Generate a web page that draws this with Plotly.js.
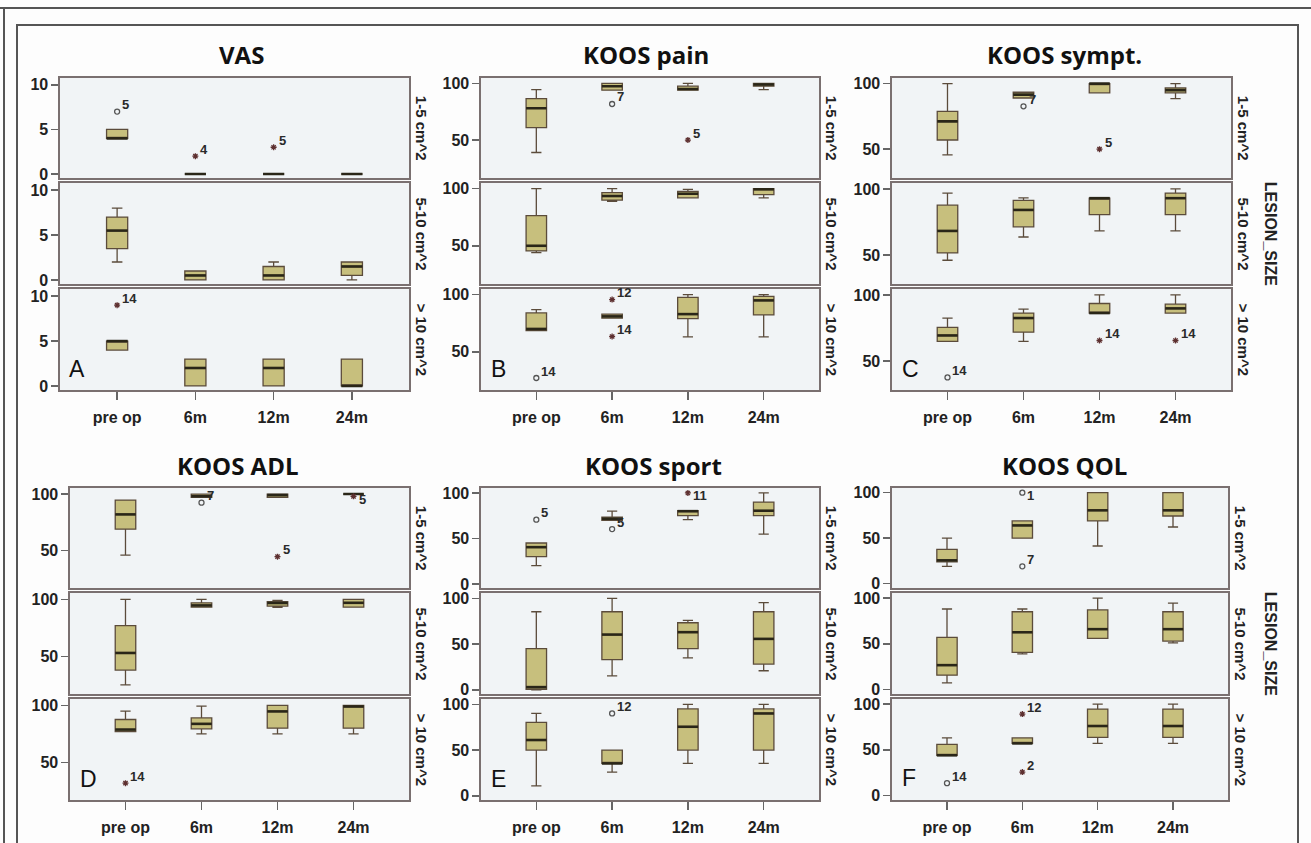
<!DOCTYPE html>
<html><head><meta charset="utf-8">
<script src="https://cdn.plot.ly/plotly-3.0.1.min.js"></script>
<style>html,body{margin:0;padding:0;background:#fff}#chart{width:1311px;height:843px}</style>
</head><body><div id="chart"></div>
<script>
// ---------------- DATA ----------------
const categories = ['pre op', '6m', '12m', '24m'];
const lesionSizes = ['1-5 cm^2', '5-10 cm^2', '> 10 cm^2'];
const panelTitles = ['VAS', 'KOOS pain', 'KOOS sympt.', 'KOOS ADL', 'KOOS sport', 'KOOS QOL'];
const panelLetters = ['A', 'B', 'C', 'D', 'E', 'F'];
const groupLabel = 'LESION_SIZE';

// rows = lesion size (1-5, 5-10, >10), columns = categories
const vasQ1  = [[4, 0, 0, 0], [3.5, 0, 0, 0.5], [4, 0, 0, 0]];
const vasMed = [[4, 0, 0, 0], [5.5, 0.5, 0.5, 1.5], [5, 2, 2, 0]];
const vasQ3  = [[5, 0, 0, 0], [7, 1, 1.5, 2], [5, 3, 3, 3]];
const vasLo  = [[4, 0, 0, 0], [2, 0, 0, 0], [4, 0, 0, 0]];
const vasHi  = [[5, 0, 0, 0], [8, 1, 2, 2], [5, 3, 3, 3]];
const vasTicks = [0, 5, 10];
const vasOutRow = [0, 0, 0, 2];
const vasOutCat = [0, 1, 2, 0];
const vasOutVal = [7, 2, 3, 9];
const vasOutId  = ['5', '4', '5', '14'];
const vasOutExtreme = [0, 1, 1, 1];

const painQ1  = [[61, 94, 94, 97.5], [45.5, 90, 92, 94.8], [68.6, 79.4, 79, 82.3]];
const painMed = [[78, 97.5, 95, 99], [50, 93.6, 95.6, 99.5], [70, 81, 83, 95]];
const painQ3  = [[86.5, 100, 97.5, 100], [76.5, 96.5, 97.7, 100], [84, 83, 97.7, 98.6]];
const painLo  = [[39, 94, 94, 94.5], [44, 89, 92, 92], [68.6, 79.4, 63, 63]];
const painHi  = [[94.5, 100, 100, 100], [100, 100, 99.4, 100], [87, 83, 100, 100]];
const painTicks = [50, 100];
const painOutRow = [0, 0, 2, 2, 2];
const painOutCat = [1, 2, 0, 1, 1];
const painOutVal = [81.8, 50, 27, 95.7, 63.4];
const painOutId  = ['7', '5', '14', '12', '14'];
const painOutExtreme = [0, 1, 0, 1, 1];

const symQ1  = [[57, 89, 93, 93], [51.5, 71.3, 80.5, 80.5], [64.8, 71.8, 86.3, 86.3]];
const symMed = [[71.2, 91.6, 100, 95], [68.2, 84.1, 93, 93], [69.3, 82.5, 86.3, 89.8]];
const symQ3  = [[78.8, 93.4, 100, 96.7], [87.7, 91.3, 93, 96.9], [75.5, 86.3, 93.5, 93]];
const symLo  = [[45.7, 89, 93, 88.5], [46, 63.6, 68.2, 68.2], [64.8, 64.8, 86.3, 86.3]];
const symHi  = [[100, 93.4, 100, 100], [96.9, 93.3, 93, 100], [82.5, 89.3, 100, 100]];
const symTicks = [50, 100];
const symOutRow = [0, 0, 2, 2, 2];
const symOutCat = [1, 2, 0, 2, 3];
const symOutVal = [82.7, 50, 37.5, 65.5, 65.5];
const symOutId  = ['7', '5', '14', '14', '14'];
const symOutExtreme = [0, 1, 0, 1, 1];

const adlQ1  = [[69, 97, 97, 100], [38, 93.2, 94, 93.2], [77, 79.4, 80, 80]];
const adlMed = [[82, 98, 99, 100], [53, 94.7, 96.8, 97], [78.8, 83.8, 94.7, 99]];
const adlQ3  = [[94.7, 100, 100, 100], [77, 97, 98, 100], [87.6, 89, 100, 100]];
const adlLo  = [[46, 97, 97, 100], [25, 93.2, 93, 93.2], [77, 75, 75, 75]];
const adlHi  = [[94.7, 100, 100, 100], [100, 100, 99, 100], [95, 99.4, 100, 100]];
const adlTicks = [50, 100];
const adlOutRow = [0, 0, 0, 2];
const adlOutCat = [1, 2, 3, 0];
const adlOutVal = [92.4, 44.7, 98, 31.8];
const adlOutId  = ['7', '5', '5', '14'];
const adlOutExtreme = [0, 1, 1, 1];

const sportQ1  = [[30, 70, 75, 75], [0.7, 33, 45, 28.2], [50, 35.4, 50, 50]];
const sportMed = [[40.4, 71.7, 80, 80.5], [3, 60.4, 63, 55.7], [61, 35.4, 75.5, 90]];
const sportQ3  = [[45, 73.5, 80.5, 90], [45, 85.3, 73.3, 85.3], [80.3, 50, 95, 95]];
const sportLo  = [[20, 70, 70.6, 54.8], [0, 15.4, 35, 20.9], [11, 26, 35.4, 35.4]];
const sportHi  = [[45, 80, 80.5, 100], [85.3, 100, 75.8, 95.2], [90, 50, 100, 100]];
const sportTicks = [0, 50, 100];
const sportOutRow = [0, 0, 0, 2];
const sportOutCat = [0, 1, 2, 1];
const sportOutVal = [70.6, 60.3, 100, 90];
const sportOutId  = ['5', '5', '11', '12'];
const sportOutExtreme = [0, 0, 1, 0];

const qolQ1  = [[24, 50, 69, 74.4], [15.8, 40.7, 56, 53], [44, 57, 63.6, 63.6]];
const qolMed = [[25.6, 64, 80.6, 80.6], [26.7, 62.6, 66, 66], [44, 57, 76, 76]];
const qolQ3  = [[37.7, 69, 100, 100], [57, 85, 87, 85], [56, 63, 94.5, 94.5]];
const qolLo  = [[19, 50, 41.4, 62.3], [7.3, 39, 56, 51], [44, 57, 57, 57]];
const qolHi  = [[50, 69, 100, 100], [88, 88, 100, 94.5], [63, 63, 100, 100]];
const qolTicks = [0, 50, 100];
const qolOutRow = [0, 0, 2, 2, 2];
const qolOutCat = [1, 1, 0, 1, 1];
const qolOutVal = [100, 19, 13.6, 89, 25.7];
const qolOutId  = ['1', '7', '14', '12', '2'];
const qolOutExtreme = [0, 0, 0, 1, 1];

// ---------------- BUILD ----------------
const panels = [
  {q1: vasQ1, med: vasMed, q3: vasQ3, lo: vasLo, hi: vasHi, ticks: vasTicks, oR: vasOutRow, oC: vasOutCat, oV: vasOutVal, oId: vasOutId, oE: vasOutExtreme},
  {q1: painQ1, med: painMed, q3: painQ3, lo: painLo, hi: painHi, ticks: painTicks, oR: painOutRow, oC: painOutCat, oV: painOutVal, oId: painOutId, oE: painOutExtreme},
  {q1: symQ1, med: symMed, q3: symQ3, lo: symLo, hi: symHi, ticks: symTicks, oR: symOutRow, oC: symOutCat, oV: symOutVal, oId: symOutId, oE: symOutExtreme},
  {q1: adlQ1, med: adlMed, q3: adlQ3, lo: adlLo, hi: adlHi, ticks: adlTicks, oR: adlOutRow, oC: adlOutCat, oV: adlOutVal, oId: adlOutId, oE: adlOutExtreme},
  {q1: sportQ1, med: sportMed, q3: sportQ3, lo: sportLo, hi: sportHi, ticks: sportTicks, oR: sportOutRow, oC: sportOutCat, oV: sportOutVal, oId: sportOutId, oE: sportOutExtreme},
  {q1: qolQ1, med: qolMed, q3: qolQ3, lo: qolLo, hi: qolHi, ticks: qolTicks, oR: qolOutRow, oC: qolOutCat, oV: qolOutVal, oId: qolOutId, oE: qolOutExtreme}
];

const W = 1311, H = 843;
const panelX = [[60, 409], [481, 819], [892, 1231], [70, 409], [481, 819], [892, 1228]];
const rowsTop = [[77.7, 178], [183, 284], [289, 390]];
const rowsBottom = [[487.7, 588], [593, 694], [699, 800]];
const yRanges = [[-0.45, 10.8], [16.5, 105], [28, 104.5], [17, 105.6], [-4.5, 105.8], [-4.8, 105.5]];
const titleX = [242, 646, 1064, 237, 653, 1064];
const letterPos = [[67, 369], [489, 369], [900, 369], [78, 779], [489, 779], [900, 778]];
const BOXW = 0.27;
const FONT = 'Liberation Sans, Arial, sans-serif';

const traces = [];
const annotations = [];
const layout = {
  width: W, height: H,
  margin: {l: 0, r: 0, t: 0, b: 0},
  paper_bgcolor: '#fdfdfd',
  plot_bgcolor: '#f1f4f6',
  showlegend: false,
  annotations: annotations,
  shapes: [
    {type: 'line', xref: 'paper', yref: 'paper', x0: 0, x1: 1, y0: 1 - 8 / H, y1: 1 - 8 / H, line: {color: '#555', width: 2}},
    {type: 'line', xref: 'paper', yref: 'paper', x0: 4 / W, x1: 4 / W, y0: 1 - 8 / H, y1: -0.05, line: {color: '#555', width: 2}},
    {type: 'rect', xref: 'paper', yref: 'paper', x0: 17 / W, x1: 1298 / W, y0: 1 - 25 / H, y1: -0.05, line: {color: '#555', width: 2}}
  ]
};

panels.forEach((P, p) => {
  const px = panelX[p];
  const rows = p < 3 ? rowsTop : rowsBottom;
  const yr = yRanges[p];
  for (let r = 0; r < 3; r++) {
    const idx = p * 3 + r + 1;
    const sfx = idx === 1 ? '' : String(idx);
    const xa = 'x' + sfx, ya = 'y' + sfx;
    const xi = categories.map((c, i) => i);

    traces.push({
      type: 'box', xaxis: xa, yaxis: ya, x: xi,
      q1: P.q1[r], median: P.med[r], q3: P.q3[r],
      lowerfence: P.lo[r], upperfence: P.hi[r],
      width: BOXW, whiskerwidth: 0.5, boxpoints: false,
      fillcolor: '#c7bf7d', line: {color: '#5b4b3b', width: 1.3},
      hoverinfo: 'skip', showlegend: false
    });

    const mx = [], my = [];
    P.med[r].forEach((m, i) => { mx.push(i - BOXW / 2, i + BOXW / 2, null); my.push(m, m, null); });
    traces.push({type: 'scatter', mode: 'lines', xaxis: xa, yaxis: ya, x: mx, y: my,
      line: {color: '#2a2618', width: 2.6}, hoverinfo: 'skip', showlegend: false});

    const ox = [], oy = [], os = [], oc = [];
    P.oR.forEach((rr, k) => {
      if (rr !== r) return;
      ox.push(P.oC[k]); oy.push(P.oV[k]);
      os.push(P.oE[k] ? 'asterisk-open' : 'circle-open');
      oc.push(P.oE[k] ? '#5e3030' : '#555');
      const nearTop = (P.oV[k] - yr[0]) / (yr[1] - yr[0]) > 0.9;
      annotations.push({
        xref: xa, yref: ya, x: P.oC[k], y: P.oV[k], text: P.oId[k], showarrow: false,
        xanchor: 'left', yanchor: 'middle', xshift: 3, yshift: nearTop ? -3 : 7,
        font: {family: FONT, size: 13, color: '#2a2a2a', weight: 'bold'}
      });
    });
    if (ox.length) {
      traces.push({type: 'scatter', mode: 'markers', xaxis: xa, yaxis: ya, x: ox, y: oy,
        marker: {symbol: os, size: 5, color: oc, line: {width: 1.3, color: oc}},
        hoverinfo: 'skip', showlegend: false, cliponaxis: false});
    }

    const tickFont = {family: FONT, size: 16, color: '#222', weight: 'bold'};
    layout['xaxis' + sfx] = {
      domain: [px[0] / W, px[1] / W], anchor: ya, range: [-0.73, 3.73],
      tickmode: 'array', tickvals: xi, ticktext: categories,
      showticklabels: r === 2, ticks: r === 2 ? 'outside' : '', ticklen: 8, tickwidth: 1.5, tickcolor: '#666',
      ticklabelstandoff: 4,
      showline: true, mirror: true, linecolor: '#7a7070', linewidth: 1.6,
      showgrid: false, zeroline: false, tickfont: tickFont, fixedrange: true
    };
    layout['yaxis' + sfx] = {
      domain: [1 - rows[r][1] / H, 1 - rows[r][0] / H], anchor: xa, range: yr,
      tickmode: 'array', tickvals: P.ticks, ticks: 'outside', ticklen: 7, tickwidth: 1.5, tickcolor: '#666',
      showline: true, mirror: true, linecolor: '#7a7070', linewidth: 1.6,
      showgrid: false, zeroline: false, tickfont: tickFont, fixedrange: true
    };

    annotations.push({
      xref: 'paper', yref: 'paper', x: (px[1] + 12) / W, y: 1 - (rows[r][0] + rows[r][1]) / 2 / H,
      text: lesionSizes[r], textangle: 90, showarrow: false, xanchor: 'center', yanchor: 'middle',
      font: {family: FONT, size: 15, color: '#222', weight: 'bold'}
    });
  }

  annotations.push({
    xref: 'paper', yref: 'paper', x: titleX[p] / W, y: 1 - (p < 3 ? 54 : 465) / H,
    text: panelTitles[p], showarrow: false, xanchor: 'center', yanchor: 'middle',
    font: {family: 'Open Sans, sans-serif', size: 24, color: '#111', weight: 'bold'}
  });
  annotations.push({
    xref: 'paper', yref: 'paper', x: letterPos[p][0] / W, y: 1 - letterPos[p][1] / H,
    text: panelLetters[p], showarrow: false, xanchor: 'left', yanchor: 'middle',
    font: {family: FONT, size: 23, color: '#111'}
  });
  if (p === 2 || p === 5) {
    const rws = p < 3 ? rowsTop : rowsBottom;
    annotations.push({
      xref: 'paper', yref: 'paper', x: 1270 / W, y: 1 - (rws[0][0] + rws[2][1]) / 2 / H,
      text: groupLabel, textangle: 90, showarrow: false, xanchor: 'center', yanchor: 'middle',
      font: {family: FONT, size: 16, color: '#222', weight: 'bold'}
    });
  }
});

Plotly.newPlot('chart', traces, layout, {displayModeBar: false, staticPlot: true});
</script>
</body></html>
